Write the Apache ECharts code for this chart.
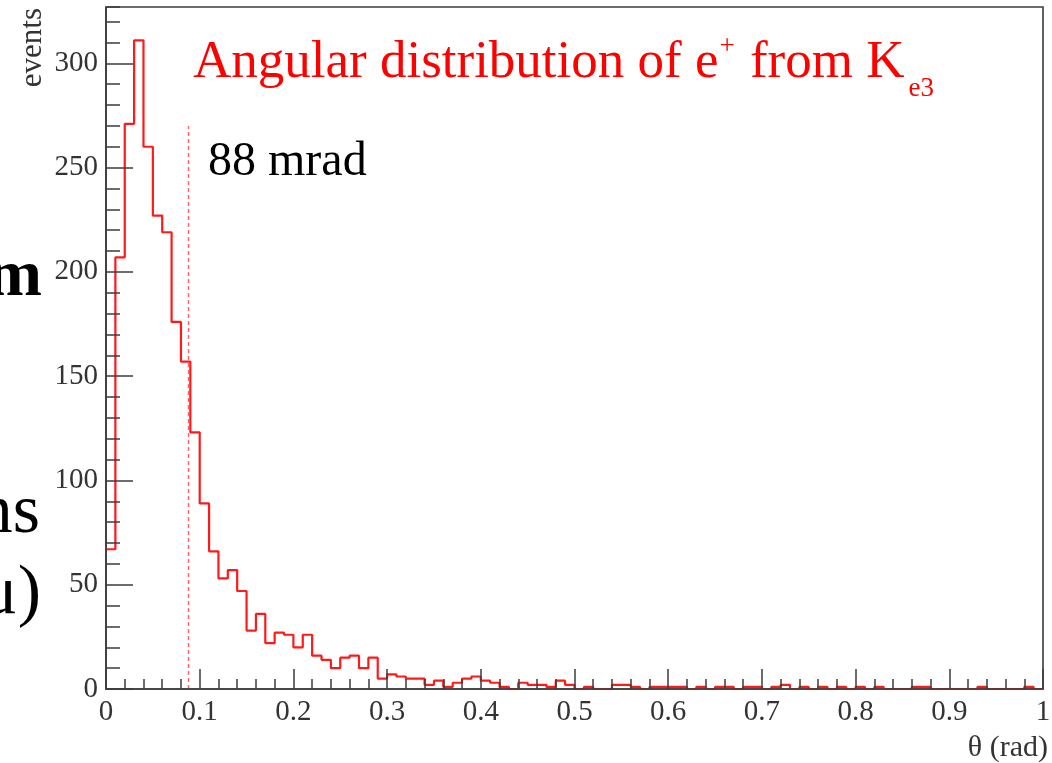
<!DOCTYPE html>
<html>
<head>
<meta charset="utf-8">
<script src="https://cdn.jsdelivr.net/npm/echarts@6/dist/echarts.min.js"></script>
<style>
html,body{margin:0;padding:0;background:#fff;}
#c{width:1052px;height:763px;}
</style>
</head>
<body>
<div id="c"></div>
<script>
// ---- data ----
const binWidth = 0.01;
const binStart = 0;
const counts = [
  67, 207, 271, 311, 260, 227, 219, 176, 157, 123,
  89, 66, 53, 57, 47, 28, 36, 22, 27, 26,
  20, 26, 16, 14, 10, 15, 16, 10, 15, 5,
  7, 6, 5, 5, 2, 4, 1, 3, 5, 6,
  4, 3, 1, 0, 3, 2, 2, 1, 4, 2,
  0, 1, 0, 0, 2, 2, 1, 0, 1, 1,
  1, 1, 0, 1, 0, 1, 1, 0, 1, 1,
  0, 1, 2, 0, 1, 0, 1, 0, 1, 0,
  1, 0, 1, 0, 0, 0, 1, 1, 0, 0,
  0, 0, 0, 1, 0, 0, 0, 0, 1, 0
];
const xMin = 0, xMax = 1, xMajor = 0.1;
const yMin = 0, yMax = 327, yMajor = 50, yMinor = 10;
const cutValue = 0.088;   // 88 mrad marker
const cutTop = 270;
const titleText = ['Angular distribution of e', '+', ' from K', 'e3'];
const cutLabel = '88 mrad';
const yTitle = 'events';
const xTitle = 'θ (rad)';
const slideFragments = ['m', 'ns', 'μ)'];

// ---- build histogram outline points from bins ----
const histData = counts.map((c, i) => [+(binStart + i * binWidth).toFixed(4), c]);
histData.push([+(binStart + counts.length * binWidth).toFixed(4), counts[counts.length - 1]]);

const serif = 'Liberation Serif, Times New Roman, serif';
const axisCol = '#3c3c3c';
const labelCol = '#333';

const chart = echarts.init(document.getElementById('c'), null, {renderer: 'canvas'});
chart.setOption({
  animation: false,
  backgroundColor: '#fff',
  grid: {
    left: 106, right: 9, top: 7, bottom: 74,
    show: true, borderColor: axisCol, borderWidth: 1.6,
    containLabel: false, outerBoundsMode: 'none'
  },
  xAxis: {
    type: 'value', min: xMin, max: xMax, interval: xMajor, z: 5,
    axisLine: {show: true, onZero: false, lineStyle: {color: axisCol, width: 1.6}},
    axisTick: {show: true, inside: true, length: 20, lineStyle: {color: axisCol, width: 1.5}},
    minorTick: {show: true, splitNumber: 5, length: 10, lineStyle: {color: axisCol, width: 1.5}},
    axisLabel: {fontFamily: serif, fontSize: 29, color: labelCol, margin: 9, hideOverlap: false},
    splitLine: {show: false}, minorSplitLine: {show: false}
  },
  yAxis: [
    {
      type: 'value', min: yMin, max: yMax, interval: yMajor, position: 'left', z: 5,
      axisLine: {show: true, lineStyle: {color: axisCol, width: 1.6}},
      axisTick: {show: true, inside: true, length: 27, lineStyle: {color: axisCol, width: 1.5}},
      axisLabel: {fontFamily: serif, fontSize: 29, color: labelCol, margin: 8, showMaxLabel: false, hideOverlap: false},
      splitLine: {show: false}
    },
    {
      type: 'value', min: yMin, max: yMax, interval: yMinor, position: 'left', offset: 0, z: 5,
      axisLine: {show: false},
      axisTick: {show: true, inside: true, length: 14, lineStyle: {color: axisCol, width: 1.5}},
      axisLabel: {show: false},
      splitLine: {show: false}
    }
  ],
  series: [{
    type: 'line',
    data: histData,
    step: 'end',
    symbol: 'none',
    yAxisIndex: 0,
    lineStyle: {color: '#ff1a1a', width: 2.2},
    markLine: {
      silent: true,
      symbol: ['none', 'none'],
      label: {show: false},
      lineStyle: {type: [4, 3], color: 'rgba(255,70,70,0.85)', width: 1.4},
      data: [[{coord: [cutValue, yMin]}, {coord: [cutValue, cutTop]}]]
    }
  }],
  graphic: [
    {
      type: 'text', x: 193, y: 21, z: 10,
      style: {
        text: '{m|' + titleText[0] + '}{sup|' + titleText[1] + '}{m|' + titleText[2] + '}{sub|' + titleText[3] + '}',
        verticalAlign: 'top', align: 'left',
        rich: {
          m: {fontFamily: serif, fontSize: 53, fill: '#ff0000', lineHeight: 84, verticalAlign: 'middle'},
          sup: {fontFamily: serif, fontSize: 27, fill: '#ff0000', verticalAlign: 'top', padding: [12, 2, 0, 1]},
          sub: {fontFamily: serif, fontSize: 27, fill: '#ff0000', verticalAlign: 'bottom', padding: [0, 0, 3, 4]}
        }
      }
    },
    {
      type: 'text', x: 208, y: 162, z: 10,
      style: {text: cutLabel, fontFamily: serif, fontSize: 48, fill: '#000', align: 'left', verticalAlign: 'middle'}
    },
    {
      type: 'text', x: 33, y: 8, rotation: Math.PI / 2, z: 10,
      style: {text: yTitle, fontFamily: serif, fontSize: 31, fill: labelCol, align: 'right', verticalAlign: 'middle'}
    },
    {
      type: 'text', x: 1048, y: 748, z: 10,
      style: {text: xTitle, fontFamily: serif, fontSize: 30, fill: labelCol, align: 'right', verticalAlign: 'middle'}
    },
    {
      type: 'text', x: 42, y: 298 - 0.305 * 66, z: 10,
      style: {text: slideFragments[0], fontFamily: serif, fontWeight: 'bold', fontSize: 66, fill: '#000', align: 'right', verticalAlign: 'middle'}
    },
    {
      type: 'text', x: 40, y: 535 - 0.305 * 70, z: 10,
      style: {text: slideFragments[1], fontFamily: serif, fontSize: 70, fill: '#000', align: 'right', verticalAlign: 'middle'}
    },
    {
      type: 'text', x: 41, y: 616 - 0.305 * 70, z: 10,
      style: {text: slideFragments[2], fontFamily: serif, fontSize: 70, fill: '#000', align: 'right', verticalAlign: 'middle'}
    }
  ]
});
</script>
</body>
</html>
